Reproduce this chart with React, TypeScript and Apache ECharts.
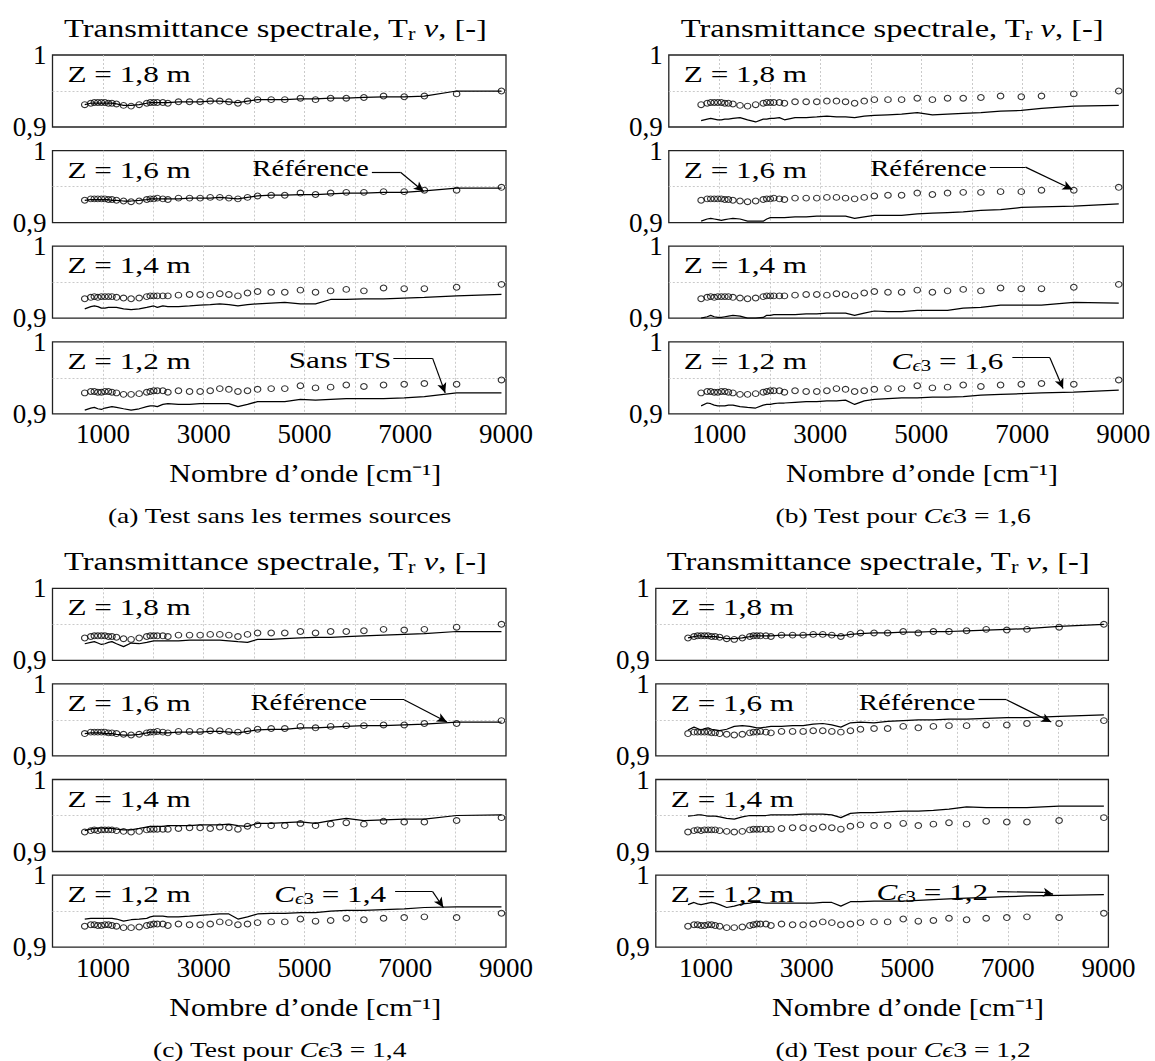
import React, { useEffect, useRef } from 'react';
import * as echarts from 'echarts';

// ---------- data ----------
const wavenumbers = [640, 760, 830, 900, 970, 1040, 1110, 1180, 1270, 1410, 1560, 1720, 1870, 1940, 2010, 2080, 2190, 2290, 2500, 2720, 2930, 3130, 3320, 3500, 3680, 3870, 4070, 4340, 4610, 4920, 5220, 5520, 5830, 6180, 6570, 6980, 7380, 8020, 8910];

// Reference (circles)
const ref18 = [0.931, 0.933, 0.934, 0.934, 0.934, 0.934, 0.933, 0.933, 0.932, 0.930, 0.929, 0.931, 0.933, 0.934, 0.934, 0.934, 0.934, 0.933, 0.935, 0.935, 0.935, 0.936, 0.936, 0.935, 0.933, 0.936, 0.938, 0.938, 0.938, 0.940, 0.938, 0.940, 0.940, 0.941, 0.943, 0.942, 0.943, 0.946, 0.950];
const ref16 = [0.931, 0.933, 0.933, 0.933, 0.933, 0.933, 0.932, 0.932, 0.931, 0.930, 0.929, 0.930, 0.932, 0.933, 0.933, 0.934, 0.933, 0.932, 0.934, 0.934, 0.934, 0.935, 0.935, 0.934, 0.933, 0.935, 0.937, 0.938, 0.938, 0.941, 0.939, 0.941, 0.942, 0.942, 0.943, 0.943, 0.945, 0.945, 0.949];
const ref14 = [0.927, 0.929, 0.930, 0.929, 0.930, 0.930, 0.930, 0.930, 0.929, 0.928, 0.927, 0.928, 0.930, 0.931, 0.931, 0.931, 0.931, 0.931, 0.932, 0.933, 0.933, 0.932, 0.934, 0.933, 0.931, 0.935, 0.937, 0.936, 0.936, 0.939, 0.936, 0.938, 0.940, 0.938, 0.942, 0.941, 0.941, 0.943, 0.947];
const ref12 = [0.929, 0.931, 0.931, 0.930, 0.930, 0.931, 0.931, 0.930, 0.929, 0.927, 0.927, 0.928, 0.930, 0.931, 0.932, 0.932, 0.932, 0.930, 0.932, 0.931, 0.931, 0.932, 0.935, 0.934, 0.931, 0.932, 0.934, 0.935, 0.935, 0.939, 0.936, 0.937, 0.940, 0.938, 0.940, 0.941, 0.942, 0.941, 0.947];

// (a) sans termes sources
const sansTS18 = [0.931, 0.933, 0.933, 0.933, 0.933, 0.933, 0.933, 0.933, 0.932, 0.930, 0.930, 0.931, 0.933, 0.934, 0.934, 0.934, 0.934, 0.934, 0.935, 0.935, 0.935, 0.936, 0.936, 0.935, 0.934, 0.936, 0.938, 0.938, 0.938, 0.939, 0.939, 0.940, 0.940, 0.941, 0.942, 0.942, 0.943, 0.950, 0.950];
const sansTS16 = [0.931, 0.932, 0.932, 0.932, 0.932, 0.932, 0.932, 0.931, 0.931, 0.930, 0.930, 0.931, 0.932, 0.933, 0.933, 0.933, 0.933, 0.933, 0.933, 0.934, 0.934, 0.934, 0.935, 0.934, 0.933, 0.935, 0.937, 0.938, 0.938, 0.939, 0.939, 0.940, 0.941, 0.941, 0.942, 0.942, 0.944, 0.948, 0.948];
const sansTS14 = [0.913, 0.916, 0.917, 0.916, 0.914, 0.914, 0.915, 0.915, 0.915, 0.913, 0.912, 0.913, 0.915, 0.916, 0.917, 0.915, 0.917, 0.916, 0.916, 0.917, 0.918, 0.919, 0.920, 0.919, 0.917, 0.919, 0.920, 0.921, 0.922, 0.920, 0.920, 0.926, 0.926, 0.927, 0.927, 0.928, 0.929, 0.931, 0.933];
const sansTS12 = [0.905, 0.908, 0.909, 0.907, 0.906, 0.908, 0.909, 0.910, 0.909, 0.907, 0.905, 0.907, 0.910, 0.911, 0.911, 0.910, 0.913, 0.914, 0.913, 0.913, 0.914, 0.914, 0.914, 0.914, 0.910, 0.913, 0.917, 0.917, 0.917, 0.920, 0.919, 0.920, 0.921, 0.921, 0.921, 0.922, 0.924, 0.929, 0.929];

// (b) C_eps3 = 1,6
const ce16Z18 = [0.909, 0.911, 0.912, 0.911, 0.910, 0.910, 0.911, 0.911, 0.912, 0.913, 0.910, 0.907, 0.911, 0.911, 0.912, 0.912, 0.913, 0.910, 0.913, 0.913, 0.914, 0.915, 0.914, 0.914, 0.913, 0.915, 0.916, 0.917, 0.918, 0.920, 0.917, 0.918, 0.919, 0.920, 0.922, 0.923, 0.926, 0.929, 0.930];
const ce16Z16 = [0.902, 0.905, 0.906, 0.905, 0.904, 0.903, 0.904, 0.905, 0.906, 0.905, 0.902, 0.902, 0.902, 0.905, 0.907, 0.907, 0.907, 0.907, 0.908, 0.908, 0.909, 0.909, 0.909, 0.909, 0.906, 0.908, 0.910, 0.910, 0.910, 0.912, 0.913, 0.914, 0.915, 0.917, 0.918, 0.921, 0.922, 0.923, 0.926];
const ce16Z14 = [0.900, 0.902, 0.904, 0.902, 0.901, 0.901, 0.902, 0.903, 0.904, 0.903, 0.900, 0.900, 0.901, 0.904, 0.904, 0.905, 0.905, 0.905, 0.905, 0.906, 0.906, 0.907, 0.907, 0.907, 0.904, 0.907, 0.910, 0.909, 0.909, 0.911, 0.911, 0.911, 0.914, 0.915, 0.918, 0.918, 0.918, 0.922, 0.921];
const ce16Z12 = [0.911, 0.915, 0.914, 0.912, 0.911, 0.911, 0.911, 0.912, 0.912, 0.910, 0.909, 0.908, 0.912, 0.913, 0.913, 0.914, 0.915, 0.915, 0.916, 0.917, 0.917, 0.918, 0.918, 0.919, 0.913, 0.918, 0.920, 0.921, 0.922, 0.922, 0.923, 0.923, 0.924, 0.926, 0.927, 0.928, 0.929, 0.930, 0.933];

// (c) C_eps3 = 1,4
const ce14Z18 = [0.923, 0.925, 0.926, 0.924, 0.922, 0.923, 0.925, 0.926, 0.923, 0.919, 0.924, 0.923, 0.925, 0.926, 0.927, 0.927, 0.927, 0.927, 0.927, 0.928, 0.928, 0.928, 0.928, 0.927, 0.926, 0.925, 0.929, 0.929, 0.930, 0.931, 0.932, 0.932, 0.933, 0.934, 0.935, 0.936, 0.937, 0.940, 0.940];
const ce14Z16 = [0.931, 0.932, 0.932, 0.932, 0.932, 0.931, 0.931, 0.931, 0.930, 0.929, 0.929, 0.930, 0.932, 0.933, 0.933, 0.933, 0.932, 0.932, 0.933, 0.933, 0.933, 0.934, 0.934, 0.933, 0.932, 0.934, 0.936, 0.937, 0.937, 0.939, 0.939, 0.940, 0.941, 0.942, 0.942, 0.943, 0.944, 0.947, 0.947];
const ce14Z14 = [0.929, 0.931, 0.932, 0.932, 0.933, 0.932, 0.932, 0.932, 0.931, 0.930, 0.930, 0.932, 0.934, 0.935, 0.935, 0.935, 0.935, 0.936, 0.936, 0.936, 0.937, 0.937, 0.937, 0.938, 0.936, 0.935, 0.939, 0.939, 0.940, 0.941, 0.939, 0.943, 0.946, 0.943, 0.944, 0.945, 0.945, 0.950, 0.951];
const ce14Z12 = [0.939, 0.940, 0.940, 0.940, 0.940, 0.940, 0.940, 0.940, 0.939, 0.936, 0.938, 0.939, 0.940, 0.942, 0.943, 0.943, 0.943, 0.942, 0.942, 0.943, 0.944, 0.945, 0.946, 0.946, 0.939, 0.942, 0.946, 0.947, 0.947, 0.948, 0.948, 0.950, 0.951, 0.951, 0.952, 0.953, 0.955, 0.956, 0.956];

// (d) C_eps3 = 1,2
const ce12Z18 = [0.931, 0.933, 0.934, 0.934, 0.933, 0.933, 0.933, 0.933, 0.932, 0.930, 0.930, 0.931, 0.933, 0.934, 0.934, 0.934, 0.934, 0.934, 0.935, 0.935, 0.935, 0.936, 0.936, 0.935, 0.934, 0.936, 0.937, 0.938, 0.938, 0.939, 0.939, 0.940, 0.940, 0.941, 0.942, 0.943, 0.944, 0.947, 0.950];
const ce12Z16 = [0.936, 0.940, 0.938, 0.936, 0.938, 0.939, 0.937, 0.936, 0.935, 0.937, 0.941, 0.942, 0.941, 0.940, 0.939, 0.939, 0.940, 0.941, 0.941, 0.942, 0.942, 0.944, 0.945, 0.943, 0.940, 0.946, 0.947, 0.946, 0.948, 0.949, 0.950, 0.950, 0.951, 0.951, 0.952, 0.953, 0.953, 0.955, 0.957];
const ce12Z14 = [0.949, 0.950, 0.951, 0.951, 0.950, 0.949, 0.949, 0.949, 0.948, 0.946, 0.945, 0.948, 0.950, 0.950, 0.950, 0.950, 0.950, 0.951, 0.951, 0.951, 0.952, 0.952, 0.952, 0.951, 0.947, 0.953, 0.954, 0.954, 0.955, 0.956, 0.956, 0.957, 0.959, 0.962, 0.961, 0.961, 0.961, 0.963, 0.963];
const ce12Z12 = [0.959, 0.962, 0.960, 0.959, 0.960, 0.961, 0.962, 0.961, 0.959, 0.955, 0.957, 0.960, 0.961, 0.962, 0.962, 0.962, 0.961, 0.961, 0.961, 0.961, 0.961, 0.961, 0.962, 0.962, 0.957, 0.963, 0.963, 0.964, 0.964, 0.964, 0.965, 0.966, 0.967, 0.968, 0.969, 0.970, 0.971, 0.972, 0.973];

const zLabels = ['Z = 1,8 m', 'Z = 1,6 m', 'Z = 1,4 m', 'Z = 1,2 m'];
const referenceSets = [ref18, ref16, ref14, ref12];
const xTickLabels = ['1000', '3000', '5000', '7000', '9000'];

// ---------- layout / styles ----------
const FONT = 'Liberation Serif';
const X_MIN = 0, X_MAX = 9000, Y_MIN = 0.9, Y_MAX = 1;
const ROW_STEP = 95.6;
const PLOT_H = 72;
const SX = 1.25; // horizontal stretch of the reference's typesetting

const panels = [
  {
    left: 52.5, width: 453.5, base: 55, captionX: 279.6,
    model: [sansTS18, sansTS16, sansTS14, sansTS12],
    caption: '(a) Test sans les termes sources',
    anns: [
      { row: 1, text: 'Référence', start: [6338, 0.970], corner: [6906, 0.970], tip: [7367, 0.9433], gap: 3, dy: -4 },
      { row: 3, text: 'Sans TS', start: [6764, 0.977], corner: [7544, 0.977], tip: [7793, 0.929], gap: 2, dy: 1 },
    ],
  },
  {
    left: 668.8, width: 454.5, base: 55, captionX: 903,
    model: [ce16Z18, ce16Z16, ce16Z14, ce16Z12],
    caption: '(b) Test pour {it|Cϵ}3 = 1,6',
    anns: [
      { row: 1, text: 'Référence', start: [6357, 0.977], corner: [7063, 0.977], tip: [7993, 0.946], gap: 3, dy: 1 },
      { row: 3, text: '{it|C}{sit|ϵ}{sub|3} = 1,6', start: [6803, 0.978], corner: [7546, 0.978], tip: [7807, 0.935], gap: 9, dy: 3 },
    ],
  },
  {
    left: 52.5, width: 453.5, base: 588.3, captionX: 279.6,
    model: [ce14Z18, ce14Z16, ce14Z14, ce14Z12],
    caption: '(c) Test pour {it|Cϵ}3 = 1,4',
    anns: [
      { row: 1, text: 'Référence', start: [6302, 0.978], corner: [6977, 0.978], tip: [7828, 0.947], gap: 3, dy: 2 },
      { row: 3, text: '{it|C}{sit|ϵ}{sub|3} = 1,4', start: [6799, 0.977], corner: [7544, 0.977], tip: [7757, 0.955], gap: 9, dy: 2 },
    ],
  },
  {
    left: 655.8, width: 452.6, base: 588.3, captionX: 903,
    model: [ce12Z18, ce12Z16, ce12Z14, ce12Z12],
    caption: '(d) Test pour {it|Cϵ}3 = 1,2',
    anns: [
      { row: 1, text: 'Référence', start: [6417, 0.978], corner: [6973, 0.978], tip: [7864, 0.947], gap: 3, dy: 2 },
      { row: 3, text: '{it|C}{sit|ϵ}{sub|3} = 1,2', start: [6788, 0.977], corner: [7715, 0.976], tip: [7900, 0.9735], gap: 9, dy: 0 },
    ],
  },
];

function richFor(size: number) {
  const sub = Math.round(size * 0.68);
  return {
    it: { fontStyle: 'italic', fontSize: size, fontFamily: FONT, fill: '#000' },
    sit: { fontStyle: 'italic', fontSize: sub, fontFamily: FONT, fill: '#000', padding: [Math.round(size * 0.42), 0, 0, 0] },
    sub: { fontSize: sub, fontFamily: FONT, fill: '#000', padding: [Math.round(size * 0.42), 0, 0, 0] },
  };
}

function toPx(p: any, row: number, x: number, y: number) {
  return [
    p.left + ((x - X_MIN) / (X_MAX - X_MIN)) * p.width,
    p.base + row * ROW_STEP + ((Y_MAX - y) / (Y_MAX - Y_MIN)) * PLOT_H,
  ];
}

function textEl(x: number, y: number, text: string, size: number, align = 'left', sx = SX) {
  return {
    type: 'text',
    x,
    y,
    scaleX: sx,
    z: 50,
    silent: true,
    style: {
      text,
      fontFamily: FONT,
      fontSize: size,
      fill: '#000',
      align,
      verticalAlign: 'middle',
      rich: richFor(size),
    },
  };
}

function buildOption() {
  const grid: any[] = [];
  const xAxis: any[] = [];
  const yAxis: any[] = [];
  const series: any[] = [];
  const graphic: any[] = [];
  const gridLine = { show: true, showMinLine: false, showMaxLine: false, lineStyle: { color: '#c4c4c4', type: [2, 2], width: 0.9 } };

  panels.forEach((p, pi) => {
    for (let k = 0; k < 4; k++) {
      const gi = pi * 4 + k;
      grid.push({
        left: p.left, top: p.base + k * ROW_STEP, width: p.width, height: PLOT_H,
        show: true, borderColor: '#222', borderWidth: 1.3, backgroundColor: 'transparent',
      });
      xAxis.push({
        type: 'value', gridIndex: gi, min: X_MIN, max: X_MAX, interval: 1000,
        axisLine: { show: false }, axisTick: { show: false },
        splitLine: gridLine,
        axisLabel: {
          show: k === 3,
          formatter: (v: number) => (xTickLabels.includes(String(Math.round(v))) ? String(Math.round(v)) : ''),
          fontFamily: FONT, fontSize: 27, color: '#000', margin: 7,
        },
      });
      yAxis.push({
        type: 'value', gridIndex: gi, min: Y_MIN, max: Y_MAX, interval: 0.05,
        axisLine: { show: false }, axisTick: { show: false },
        splitLine: gridLine,
        axisLabel: {
          formatter: (v: number) => (Math.abs(v - 1) < 1e-6 ? '1' : Math.abs(v - 0.9) < 1e-6 ? '0,9' : ''),
          fontFamily: FONT, fontSize: 27, color: '#000', margin: 6,
        },
      });

      const markData: any[] = [];
      p.anns.filter((a) => a.row === k).forEach((a) => {
        markData.push([{ coord: a.start }, { coord: a.corner }]);
        markData.push([{ coord: a.corner }, { coord: a.tip, symbol: 'arrow', symbolSize: [7, 10] }]);
      });

      series.push({
        type: 'line', xAxisIndex: gi, yAxisIndex: gi,
        data: wavenumbers.map((w, i) => [w, p.model[k][i]]),
        symbol: 'none',
        lineStyle: { color: '#000', width: 1.25 },
        z: 3,
        markLine: markData.length ? {
          silent: true, symbol: 'none', animation: false,
          label: { show: false },
          lineStyle: { color: '#000', width: 1.2, type: 'solid' },
          emphasis: { disabled: true },
          data: markData,
        } : undefined,
      });
      series.push({
        type: 'scatter', xAxisIndex: gi, yAxisIndex: gi,
        data: wavenumbers.map((w, i) => [w, referenceSets[k][i]]),
        symbol: 'circle', symbolSize: [6.5, 5.8],
        itemStyle: { color: 'rgba(0,0,0,0)', borderColor: '#000', borderWidth: 1.1 },
        z: 4,
      });

      graphic.push(textEl(p.left + 15, p.base + k * ROW_STEP + 19, zLabels[k], 24, 'left', 1.3));
    }

    p.anns.forEach((a) => {
      const [sx, sy] = toPx(p, a.row, a.start[0], a.start[1]);
      const isRef = a.text === 'Référence';
      graphic.push(textEl(sx - a.gap, sy + a.dy, a.text, 24, 'right', isRef ? 1.2 : 1.3));
    });

    const bottom = p.base + 3 * ROW_STEP + PLOT_H;
    const cx = p.left + p.width / 2;
    graphic.push(textEl(cx - 4, p.base - 27, 'Transmittance spectrale, T{sub|r} {it|ν}, [-]', 26, 'center'));
    graphic.push(textEl(cx + 26, bottom + 60, 'Nombre d’onde [cm⁻¹]', 25, 'center', 1.2));
    graphic.push(textEl(p.captionX, bottom + 102, p.caption, 22, 'center'));
  });

  return {
    animation: false,
    backgroundColor: '#fff',
    grid, xAxis, yAxis, series, graphic,
  };
}

export default function App() {
  const ref = useRef<HTMLDivElement>(null);
  useEffect(() => {
    if (!ref.current) return;
    const chart = echarts.init(ref.current, null, { renderer: 'svg' });
    chart.setOption(buildOption() as any);
    return () => chart.dispose();
  }, []);
  return <div ref={ref} style={{ position: 'absolute', left: 0, top: 0, width: 1155, height: 1061 }} />;
}
